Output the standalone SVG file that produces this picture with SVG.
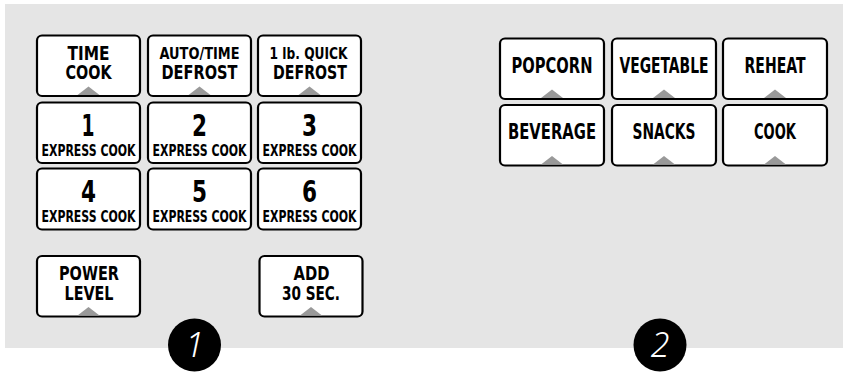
<svg xmlns="http://www.w3.org/2000/svg" width="843" height="376" viewBox="0 0 843 376">
<defs>
<style>
.box{fill:#fff;stroke:#000;stroke-width:2.2}
.tri{fill:#999}
.t{font-family:"DejaVu Sans Condensed","DejaVu Sans","Liberation Sans",sans-serif;font-stretch:condensed;font-weight:bold;fill:#000;text-anchor:middle}
.s19{font-size:19px}
.s16{font-size:16.5px}
.s20{font-size:21px}
.num{font-size:29.5px}
.cnum{font-family:"Noto Sans","DejaVu Sans",sans-serif;font-style:italic;font-weight:300;font-size:34px;fill:#fff;stroke:#000;stroke-width:0.6;paint-order:stroke;text-anchor:middle}
</style>
<path id="tri" d="M-11 0 L0 -8.5 L11 0 Z"/>
</defs>
<rect x="5" y="4" width="838" height="344" fill="#e5e5e5"/>

<g id="time-cook">
<rect class="box" x="37" y="35.5" width="103" height="60.5" rx="5"/>
<use href="#tri" class="tri" x="88.5" y="95"/>
<text class="t s19" x="88.5" y="59.5" textLength="42" lengthAdjust="spacingAndGlyphs">TIME</text>
<text class="t s19" x="88.5" y="79" textLength="46" lengthAdjust="spacingAndGlyphs">COOK</text>
</g>
<g id="auto-defrost">
<rect class="box" x="148" y="35.5" width="103" height="60.5" rx="5"/>
<use href="#tri" class="tri" x="199.5" y="95"/>
<text class="t s16" x="199.5" y="59" textLength="80" lengthAdjust="spacingAndGlyphs">AUTO/TIME</text>
<text class="t s19" x="199.5" y="79" textLength="76" lengthAdjust="spacingAndGlyphs">DEFROST</text>
</g>
<g id="quick-defrost">
<rect class="box" x="258" y="35.5" width="103" height="60.5" rx="5"/>
<use href="#tri" class="tri" x="309.5" y="95"/>
<text class="t s16" x="308.5" y="59" textLength="78" lengthAdjust="spacingAndGlyphs">1 lb. QUICK</text>
<text class="t s19" x="310" y="79" textLength="74" lengthAdjust="spacingAndGlyphs">DEFROST</text>
</g>

<g id="key-1">
<rect class="box" x="37" y="102.5" width="103" height="60.5" rx="5"/>
<text class="t num" x="88" y="135.5" textLength="13" lengthAdjust="spacingAndGlyphs">1</text>
<text class="t s16" x="88.5" y="155.5" textLength="94" lengthAdjust="spacingAndGlyphs">EXPRESS COOK</text>
</g>
<g id="key-2">
<rect class="box" x="148" y="102.5" width="103" height="60.5" rx="5"/>
<text class="t num" x="199.5" y="135.5" textLength="15" lengthAdjust="spacingAndGlyphs">2</text>
<text class="t s16" x="199.5" y="155.5" textLength="94" lengthAdjust="spacingAndGlyphs">EXPRESS COOK</text>
</g>
<g id="key-3">
<rect class="box" x="258" y="102.5" width="103" height="60.5" rx="5"/>
<text class="t num" x="309.5" y="135.5" textLength="15" lengthAdjust="spacingAndGlyphs">3</text>
<text class="t s16" x="309.5" y="155.5" textLength="94" lengthAdjust="spacingAndGlyphs">EXPRESS COOK</text>
</g>

<g id="key-4">
<rect class="box" x="37" y="168.5" width="103" height="61" rx="5"/>
<text class="t num" x="88.5" y="201.5" textLength="15" lengthAdjust="spacingAndGlyphs">4</text>
<text class="t s16" x="88.5" y="221.5" textLength="94" lengthAdjust="spacingAndGlyphs">EXPRESS COOK</text>
</g>
<g id="key-5">
<rect class="box" x="148" y="168.5" width="103" height="61" rx="5"/>
<text class="t num" x="199.5" y="201.5" textLength="15" lengthAdjust="spacingAndGlyphs">5</text>
<text class="t s16" x="199.5" y="221.5" textLength="94" lengthAdjust="spacingAndGlyphs">EXPRESS COOK</text>
</g>
<g id="key-6">
<rect class="box" x="258" y="168.5" width="103" height="61" rx="5"/>
<text class="t num" x="309.5" y="201.5" textLength="15" lengthAdjust="spacingAndGlyphs">6</text>
<text class="t s16" x="309.5" y="221.5" textLength="94" lengthAdjust="spacingAndGlyphs">EXPRESS COOK</text>
</g>

<g id="power-level">
<rect class="box" x="37" y="256" width="103" height="60.5" rx="5"/>
<use href="#tri" class="tri" x="88.5" y="315.5"/>
<text class="t s19" x="89" y="279.5" textLength="60" lengthAdjust="spacingAndGlyphs">POWER</text>
<text class="t s19" x="89" y="300" textLength="49" lengthAdjust="spacingAndGlyphs">LEVEL</text>
</g>
<g id="add-30">
<rect class="box" x="259.5" y="256" width="103" height="60.5" rx="5"/>
<use href="#tri" class="tri" x="311" y="315.5"/>
<text class="t s19" x="311.5" y="279.5" textLength="36" lengthAdjust="spacingAndGlyphs">ADD</text>
<text class="t s19" x="311" y="300" textLength="58" lengthAdjust="spacingAndGlyphs">30 SEC.</text>
</g>

<g id="popcorn">
<rect class="box" x="500" y="38.5" width="104" height="60.5" rx="5"/>
<use href="#tri" class="tri" x="552" y="98"/>
<text class="t s20" x="552" y="72.5" textLength="81" lengthAdjust="spacingAndGlyphs">POPCORN</text>
</g>
<g id="vegetable">
<rect class="box" x="612" y="38.5" width="104" height="60.5" rx="5"/>
<use href="#tri" class="tri" x="664" y="98"/>
<text class="t s20" x="664" y="72.5" textLength="89" lengthAdjust="spacingAndGlyphs">VEGETABLE</text>
</g>
<g id="reheat">
<rect class="box" x="723" y="38.5" width="104" height="60.5" rx="5"/>
<use href="#tri" class="tri" x="775" y="98"/>
<text class="t s20" x="775" y="72.5" textLength="61" lengthAdjust="spacingAndGlyphs">REHEAT</text>
</g>
<g id="beverage">
<rect class="box" x="500" y="105" width="104" height="60.5" rx="5"/>
<use href="#tri" class="tri" x="552" y="164.5"/>
<text class="t s20" x="552" y="139" textLength="88" lengthAdjust="spacingAndGlyphs">BEVERAGE</text>
</g>
<g id="snacks">
<rect class="box" x="612" y="105" width="104" height="60.5" rx="5"/>
<use href="#tri" class="tri" x="664" y="164.5"/>
<text class="t s20" x="664" y="139" textLength="63" lengthAdjust="spacingAndGlyphs">SNACKS</text>
</g>
<g id="cook">
<rect class="box" x="723" y="105" width="104" height="60.5" rx="5"/>
<use href="#tri" class="tri" x="775" y="164.5"/>
<text class="t s20" x="775" y="139" textLength="42" lengthAdjust="spacingAndGlyphs">COOK</text>
</g>

<g id="badge-1">
<circle cx="194.5" cy="345" r="26.5" fill="#000"/>
<text class="cnum" x="194.5" y="357">1</text>
</g>
<g id="badge-2">
<circle cx="660" cy="345" r="26.5" fill="#000"/>
<text class="cnum" x="660" y="357">2</text>
</g>
<g id="connectors"></g>
</svg>
